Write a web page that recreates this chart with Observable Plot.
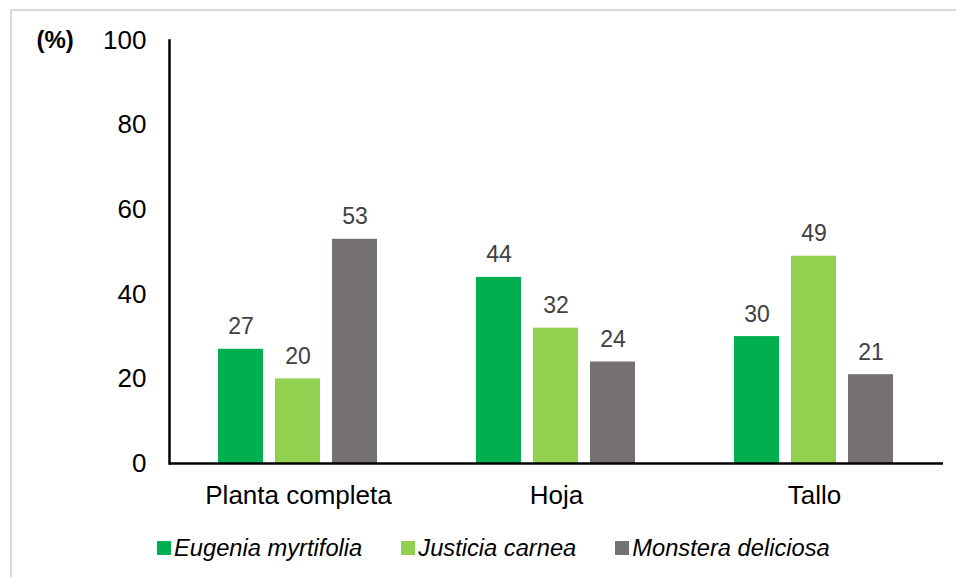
<!DOCTYPE html>
<html>
<head>
<meta charset="utf-8">
<script src="https://cdn.jsdelivr.net/npm/d3@7"></script>
<script src="https://cdn.jsdelivr.net/npm/@observablehq/plot@0.6"></script>
<style>
  html, body { margin: 0; padding: 0; background: #fff; }
  body { width: 956px; height: 577px; position: relative; overflow: hidden; font-family: "Liberation Sans", Arial, sans-serif; }
  #border { position: absolute; left: 10px; top: 9px; right: -5px; bottom: -5px; border-left: 2px solid #d9d9d9; border-top: 2px solid #d9d9d9; }
  #chart { position: absolute; left: 0; top: 0; }
  #legend { position: absolute; left: 157px; top: 533px; height: 30px; display: flex; align-items: center; font-size: 23.7px; font-style: italic; color: #000; white-space: nowrap; }
  .item { display: flex; align-items: center; margin-right: 39px; }
  .sw { width: 14px; height: 14px; margin-right: 3px; display: inline-block; }
</style>
</head>
<body>
<div id="border"></div>
<div id="chart"></div>
<div id="legend"></div>
<script>
const categories = ["Planta completa", "Hoja", "Tallo"];
const species = ["Eugenia myrtifolia", "Justicia carnea", "Monstera deliciosa"];
const eugenia = [27, 44, 30];
const justicia = [20, 32, 49];
const monstera = [53, 24, 21];
const colors = ["#00B050", "#92D050", "#767171"];
const yTicks = [0, 20, 40, 60, 80, 100];
const yLabel = "(%)";

const seriesValues = [eugenia, justicia, monstera];
const data = [];
categories.forEach((c, i) => species.forEach((s, j) => data.push({cat: c, sp: s, v: seriesValues[j][i]})));

const plot = Plot.plot({
  width: 956,
  height: 520,
  marginLeft: 168,
  marginRight: 12,
  marginTop: 40,
  marginBottom: 57,
  style: {fontFamily: "'Liberation Sans', Arial, sans-serif", fontSize: "26px", background: "transparent", overflow: "visible", color: "#000"},
  fx: {domain: categories, padding: 0},
  x: {domain: species, paddingInner: 0.21, paddingOuter: 0.868, axis: null},
  y: {domain: [0, 100]},
  color: {domain: species, range: colors},
  marks: [
    Plot.barY(data, {fx: "cat", x: "sp", y: "v", fill: "sp"}),
    Plot.text(data, {fx: "cat", x: "sp", y: "v", text: d => String(d.v), dy: -15, lineAnchor: "bottom", fill: "#404040", fontSize: 23}),
    Plot.ruleY([0], {stroke: "#000", strokeWidth: 2.5}),
    Plot.frame({anchor: "left", facetAnchor: "left", stroke: "#000", strokeWidth: 2.5}),
    Plot.axisY({ticks: yTicks, tickSize: 0, tickPadding: 23, fontSize: 26, label: null, tickFormat: d => String(d)}),
    Plot.axisFx({anchor: "bottom", tickSize: 0, tickPadding: 22, fontSize: 26, label: null}),
    Plot.text([yLabel], {fx: () => categories[0], frameAnchor: "top-left", dx: -133, lineAnchor: "middle", fontWeight: "bold", fontSize: 24, fill: "#000"})
  ]
});
document.getElementById("chart").appendChild(plot);

const legend = document.getElementById("legend");
species.forEach((s, i) => {
  const item = document.createElement("div");
  item.className = "item";
  const sw = document.createElement("span");
  sw.className = "sw";
  sw.style.background = colors[i];
  const t = document.createElement("span");
  t.textContent = s;
  item.appendChild(sw);
  item.appendChild(t);
  legend.appendChild(item);
});
</script>
</body>
</html>
